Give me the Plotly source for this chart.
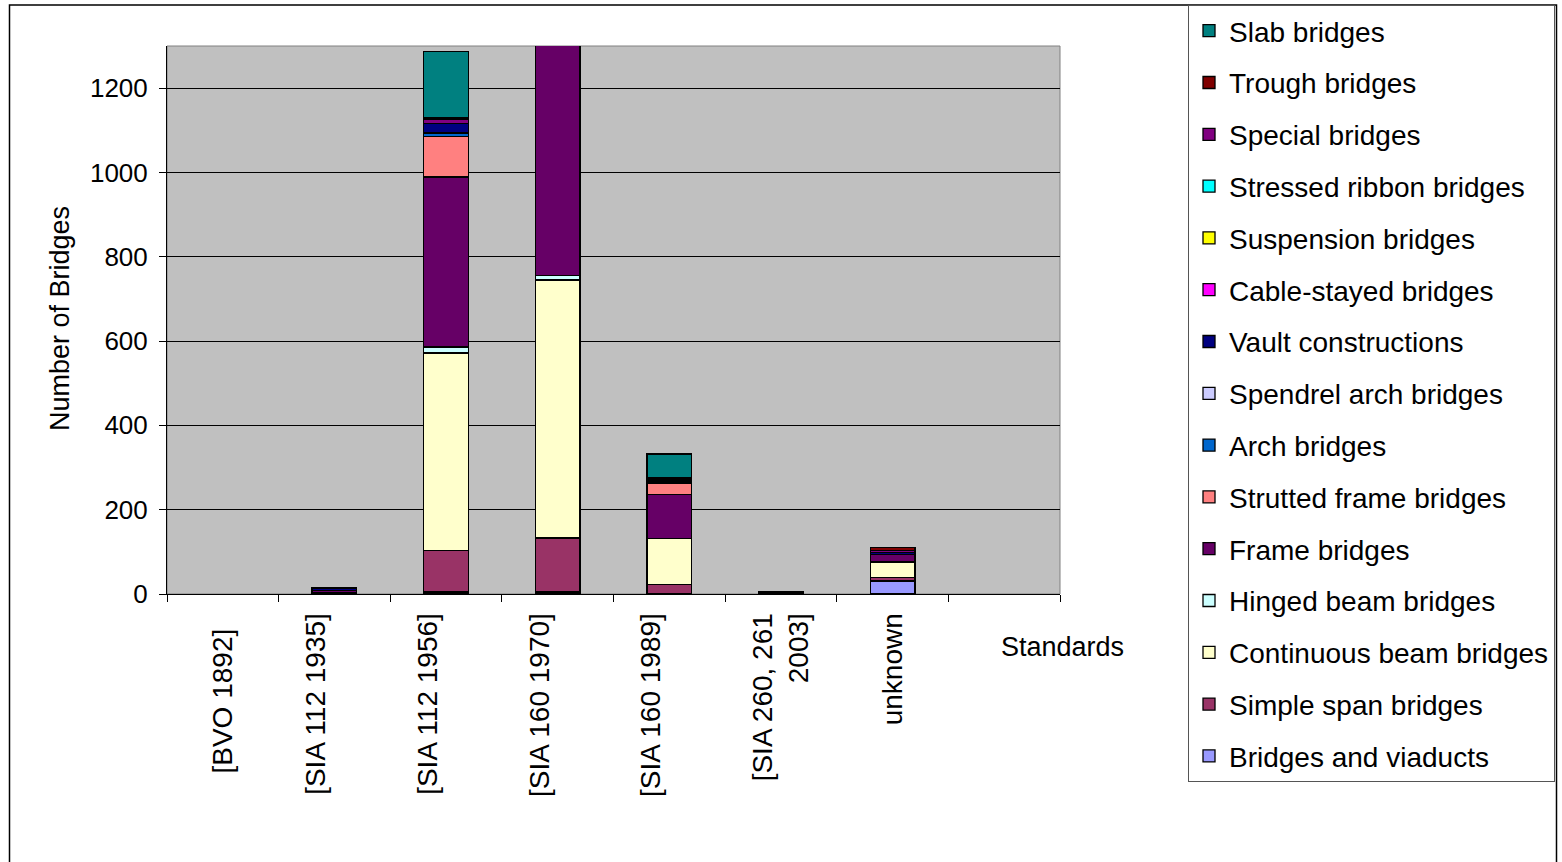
import plotly.graph_objects as go

# Design standards (last slot is left empty)
standards = ["[BVO 1892]\u00a0\u00a0", "[SIA 112 1935]<br>\u00a0", "[SIA 112 1956]<br>\u00a0",
             "[SIA 160 1970]<br>\u00a0", "[SIA 160 1989]<br>\u00a0",
             "[SIA 260, 261<br>2003]", "unknown", ""]

# Bridge counts per type, listed from the bottom of each stack upwards
bridges_viaducts = [0, 0, 5, 5, 0, 0, 31, 0]
simple_span = [0, 4, 99, 128, 22, 0, 8, 0]
continuous_beam = [0, 0, 468, 612, 109, 3, 37, 0]
hinged_beam = [0, 0, 14, 11, 0, 0, 0, 0]
frame = [0, 4, 403, 620, 105, 3, 17, 0]
strutted_frame = [0, 0, 97, 0, 26, 0, 0, 0]
arch = [0, 0, 6, 0, 3, 0, 0, 0]
spendrel_arch = [0, 0, 2, 0, 0, 0, 0, 0]
vault = [0, 6, 22, 0, 3, 0, 6, 0]
cable_stayed = [0, 0, 0, 0, 0, 0, 0, 0]
suspension = [0, 0, 0, 0, 0, 0, 0, 0]
stressed_ribbon = [0, 0, 0, 0, 0, 0, 0, 0]
special = [0, 0, 10, 0, 5, 0, 5, 0]
trough = [0, 0, 3, 0, 4, 0, 6, 0]
slab = [0, 0, 158, 0, 55, 0, 0, 0]

series = [
    ("Bridges and viaducts", bridges_viaducts, "#9999FF"),
    ("Simple span bridges", simple_span, "#993366"),
    ("Continuous beam bridges", continuous_beam, "#FFFFCC"),
    ("Hinged beam bridges", hinged_beam, "#CCFFFF"),
    ("Frame bridges", frame, "#660066"),
    ("Strutted frame bridges", strutted_frame, "#FF8080"),
    ("Arch bridges", arch, "#0066CC"),
    ("Spendrel arch bridges", spendrel_arch, "#CCCCFF"),
    ("Vault constructions", vault, "#000080"),
    ("Cable-stayed bridges", cable_stayed, "#FF00FF"),
    ("Suspension bridges", suspension, "#FFFF00"),
    ("Stressed ribbon bridges", stressed_ribbon, "#00FFFF"),
    ("Special bridges", special, "#800080"),
    ("Trough bridges", trough, "#800000"),
    ("Slab bridges", slab, "#008080"),
]

FONT = "Liberation Sans, Arial, sans-serif"
W, H = 1562, 862
L, R, T, B = 167, 1060, 46, 594  # plot area in pixels

def px_x(p):
    return (p - L) / (R - L)

def px_y(p):
    return (B - p) / (B - T)

pos = list(range(len(standards)))

fig = go.Figure()
n = len(series)
for i, (name, vals, color) in enumerate(series):
    fig.add_trace(go.Bar(
        x=pos, y=[v if v else None for v in vals], name=name,
        legendgroup=name, legendrank=100 + (n - i), width=0.4,
        marker=dict(color=color, line=dict(color="black", width=1.3)),
    ))

fig.update_layout(
    width=W, height=H,
    margin=dict(l=L, r=W - R, t=T, b=H - B, pad=0, autoexpand=False),
    barmode="stack",
    plot_bgcolor="#C0C0C0",
    paper_bgcolor="white",
    font=dict(family=FONT, size=26, color="black"),
    showlegend=True,
    legend=dict(
        x=px_x(1188), y=px_y(5), xanchor="left", yanchor="top",
        traceorder="grouped", tracegroupgap=12.4, maxheight=820,
        bordercolor="#555555", borderwidth=1, bgcolor="white",
        font=dict(family=FONT, size=28, color="black"),
    ),
    xaxis=dict(
        range=[-0.5, 7.5], tickmode="array", tickvals=pos, ticktext=standards,
        tickangle=-90, ticks="", showgrid=False, zeroline=False,
        showline=True, linecolor="black", linewidth=1, ticklabelstandoff=7,
        tickfont=dict(family=FONT, size=28),
        minor=dict(ticks="outside", tick0=-0.5, dtick=1, ticklen=7,
                   tickcolor="black", showgrid=False),
    ),
    yaxis=dict(
        range=[0, 1300], tickmode="linear", tick0=0, dtick=200,
        ticks="outside", ticklen=7, tickcolor="black", ticklabelstandoff=6,
        showgrid=True, gridcolor="black", gridwidth=1, zeroline=False,
        showline=True, linecolor="black", linewidth=1,
        tickfont=dict(family=FONT, size=26),
    ),
    shapes=[
        # plot area frame
        dict(type="rect", xref="paper", yref="paper", x0=0, x1=1, y0=0, y1=1,
             line=dict(color="#808080", width=1), layer="below"),
        # chart area frame
        dict(type="rect", xref="paper", yref="paper",
             x0=px_x(9.5), x1=px_x(1556.5), y0=px_y(880), y1=px_y(5),
             line=dict(color="black", width=1.5), layer="below"),
    ],
    annotations=[
        dict(text="Number of Bridges", xref="paper", yref="paper",
             x=px_x(60), y=px_y(319), textangle=-90, showarrow=False,
             xanchor="center", yanchor="middle", font=dict(family=FONT, size=27)),
        dict(text="Standards", xref="paper", yref="paper",
             x=px_x(1062), y=px_y(647), showarrow=False,
             xanchor="center", yanchor="middle", font=dict(family=FONT, size=27)),
    ],
)

fig.write_html("out.html")
